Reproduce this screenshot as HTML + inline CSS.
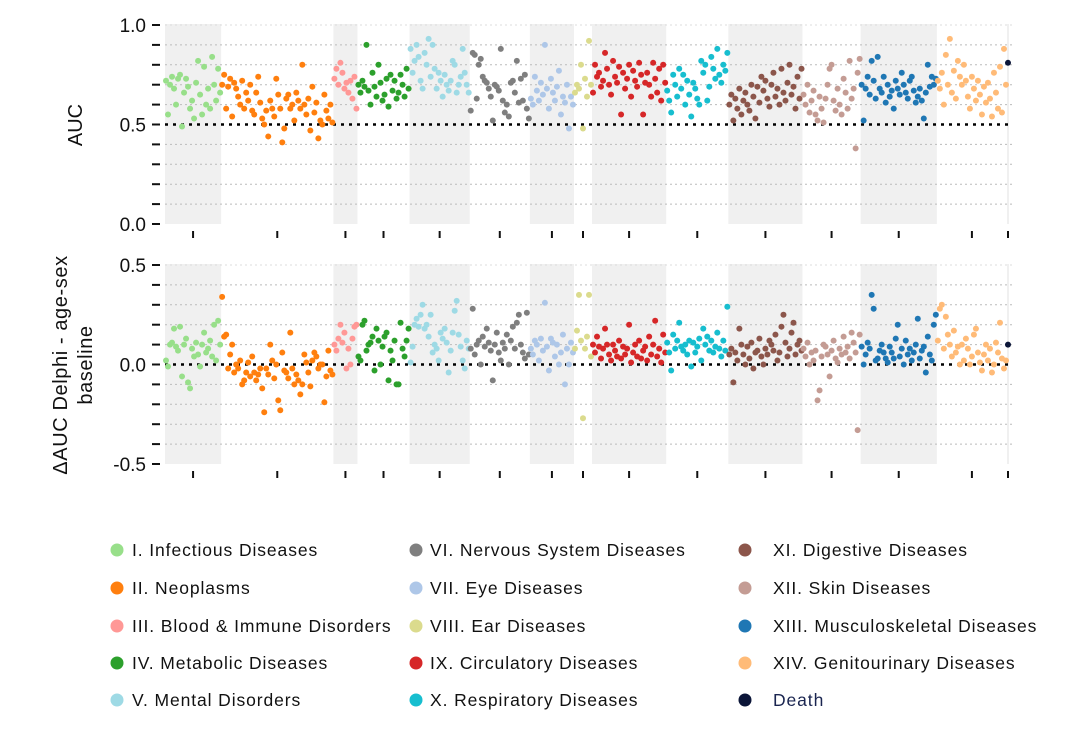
<!DOCTYPE html>
<html><head><meta charset="utf-8"><style>
html,body{margin:0;padding:0;background:#fff;width:1084px;height:738px;overflow:hidden}
svg{display:block;font-family:"Liberation Sans",Arial,sans-serif}
</style></head><body>
<svg id="chart" width="1084" height="738" xmlns="http://www.w3.org/2000/svg"></svg>
<script>
const groupNames=["I. Infectious Diseases","II. Neoplasms","III. Blood & Immune Disorders","IV. Metabolic Diseases","V. Mental Disorders","VI. Nervous System Diseases","VII. Eye Diseases","VIII. Ear Diseases","IX. Circulatory Diseases","X. Respiratory Diseases","XI. Digestive Diseases","XII. Skin Diseases","XIII. Musculoskeletal Diseases","XIV. Genitourinary Diseases","Death"];
const groupColors=["#98df8a","#ff7f0e","#ff9896","#2ca02c","#9edae5","#7f7f7f","#aec7e8","#dbdb8d","#d62728","#17becf","#8c564b","#c49c94","#1f77b4","#ffbb78","#0b1538"];
const aucValues=[
[.72,.55,.70,.74,.68,.60,.73,.75,.49,.66,.73,.69,.58,.62,.53,.71,.82,.65,.55,.79,.60,.68,.58,.84,.70,.62,.78,.66],
[.70,.75,.58,.69,.73,.54,.71,.68,.64,.60,.72,.58,.66,.62,.70,.57,.55,.66,.74,.61,.53,.50,.57,.44,.62,.58,.54,.73,.65,.58,.41,.48,.63,.65,.58,.60,.52,.66,.62,.58,.80,.60,.55,.63,.47,.69,.56,.61,.43,.52,.50,.65,.57,.53,.60,.51],
[.73,.78,.70,.81,.76,.68,.71,.66,.72,.63,.74,.58],
[.70,.66,.72,.69,.90,.67,.60,.76,.69,.64,.80,.71,.62,.65,.73,.59,.75,.67,.72,.63,.66,.75,.70,.64,.78,.68],
[.88,.76,.82,.90,.84,.72,.68,.86,.80,.93,.74,.90,.78,.68,.76,.72,.64,.75,.70,.67,.72,.82,.80,.66,.70,.74,.88,.76,.70,.66],
[.57,.86,.85,.63,.80,.83,.74,.72,.71,.68,.64,.52,.70,.69,.67,.88,.62,.56,.60,.54,.71,.72,.66,.82,.61,.73,.62,.75,.58,.53],
[.63,.60,.74,.67,.62,.71,.65,.90,.68,.58,.73,.66,.62,.69,.77,.55,.64,.61,.70,.48,.64,.60],
[.66,.70,.68,.80,.48,.73,.64,.92,.70],
[.66,.80,.74,.76,.69,.72,.86,.78,.70,.65,.82,.74,.71,.79,.55,.76,.68,.73,.80,.64,.77,.72,.69,.81,.75,.55,.71,.76,.70,.64,.81,.73,.66,.78,.62,.80,.71],
[.67,.62,.56,.75,.70,.64,.78,.68,.75,.60,.72,.65,.54,.71,.68,.63,.60,.82,.76,.80,.62,.69,.84,.78,.73,.88,.75,.71,.80,.77,.86],
[.60,.65,.52,.63,.58,.68,.55,.62,.66,.60,.57,.70,.64,.53,.69,.61,.74,.67,.72,.63,.59,.70,.76,.64,.68,.60,.78,.66,.62,.71,.80,.65,.69,.58,.74,.63,.78],
[.65,.60,.70,.56,.62,.67,.55,.52,.64,.58,.51,.63,.70,.78,.80,.62,.57,.68,.60,.55,.73,.66,.58,.82,.63,.68,.38,.76,.83],
[.70,.52,.68,.74,.65,.82,.72,.63,.84,.68,.66,.74,.61,.70,.64,.67,.58,.72,.68,.65,.76,.70,.66,.63,.72,.74,.67,.61,.64,.68,.62,.53,.66,.80,.69,.74,.70,.73],
[.72,.68,.76,.60,.85,.70,.93,.66,.77,.63,.82,.74,.70,.80,.72,.64,.58,.74,.68,.62,.72,.65,.55,.69,.61,.71,.63,.54,.76,.66,.58,.79,.56,.88,.70],
[.81]];
const deltaValues=[
[.02,-.01,.10,.11,.18,.09,.07,.19,-.06,.10,.13,-.09,-.12,.08,.04,.11,.05,-.01,.10,.16,.06,.08,.12,.04,.20,.02,.22,.10],
[.34,.14,.15,-.02,.05,.10,-.04,.00,-.02,.02,-.10,-.08,-.04,.01,-.06,.04,-.04,-.08,-.05,-.02,-.12,-.24,-.02,-.05,.10,.02,-.07,.00,-.18,-.23,.06,-.03,-.04,-.07,.16,-.02,-.10,-.05,-.08,-.15,-.10,.05,.01,-.04,-.11,.02,.06,.04,-.02,.00,.00,-.19,-.06,.07,-.03,-.05],
[.10,.07,.13,.20,.11,.16,-.02,.08,.00,.13,.19,.20],
[.04,.02,.20,.22,.07,.10,.11,.14,-.03,.18,.12,.00,.09,.14,.16,-.08,.07,.02,.12,-.10,-.10,.21,.08,.04,.12,.18],
[.01,.09,.20,.23,.19,.25,.30,.18,.20,.14,.25,.06,.10,.08,.02,.16,.13,.18,.11,-.04,.07,.16,.27,.32,.15,.09,.02,-.02,.12,.08],
[.08,.28,.05,.10,.12,.00,.14,.09,.18,.11,.07,-.08,.10,.16,.06,.02,.11,.08,.15,.00,.12,.19,.08,.21,.25,.10,.06,.03,.26,.05],
[.08,.05,.12,.10,.02,.13,.07,.31,.09,-.03,.13,.11,.04,.10,.00,.06,.15,-.10,.08,.00,.11,.06],
[.08,.17,.35,.12,-.27,.08,.14,.35,.04],
[.10,.06,.14,.09,.03,.08,.18,.10,.05,.02,.10,.07,.04,.12,.03,.09,.05,.08,.20,.01,.06,.10,.04,.12,.03,.07,.09,.02,.14,.05,.10,.22,.04,.08,.01,.15,.06],
[.11,.06,-.03,.15,.08,.12,.21,.09,.07,.10,.05,.12,-.01,.11,.06,.09,.13,.02,.18,.10,.14,.07,.12,.06,.09,.16,.08,.04,.12,.07,.29],
[.05,.08,-.09,.06,.02,.18,.10,.05,.00,.09,.03,.11,-.02,.06,.07,.13,.04,.00,.08,.05,.12,.10,.07,.15,.02,.06,.19,.25,.11,.04,.08,.16,.21,.05,.10,.12,.07],
[.08,.04,.11,.00,.06,.02,.07,-.18,-.13,.04,.10,.09,.05,-.06,.07,.12,.03,.01,.08,.05,.14,.06,.09,.03,.16,.11,.06,-.33,.15],
[.09,.00,.05,.11,.08,.35,.28,.02,.03,.07,.10,.06,.03,.01,.09,.06,.03,.13,.20,.04,.08,.00,.12,.05,.08,.02,.06,.10,.23,.03,.07,.09,-.04,.14,.05,.02,.20,.25],
[.12,.28,.30,.08,.24,.15,.10,.04,.17,.06,.09,.00,.10,.02,.13,.08,.00,.04,.15,.18,.06,.01,-.03,.05,.10,.02,.08,-.04,.00,.11,.06,.21,.03,-.02,.02],
[.10]];
const topTickLabels=["0.0","0.5","1.0"];
const bottomTickLabels=["-0.5","0.0","0.5"];

const NS="http://www.w3.org/2000/svg";
const svg=document.getElementById('chart');
function el(tag,attrs,parent){const e=document.createElementNS(NS,tag);for(const k in attrs)e.setAttribute(k,attrs[k]);(parent||svg).appendChild(e);return e;}
const total=aucValues.reduce((s,a)=>s+a.length,0);
const X0=165,X1=1009;
const xScale=i=>X0+(i)/total*(X1-X0);
const panels=[
 {vals:aucValues,min:0,max:1,top:25,bot:224,ref:0.5,labels:topTickLabels,name:'auc'},
 {vals:deltaValues,min:-0.5,max:0.5,top:265,bot:464,ref:0,labels:bottomTickLabels,name:'delta'}];
panels.forEach(p=>{
 const y=v=>p.bot-(v-p.min)/(p.max-p.min)*(p.bot-p.top);
 const g=el('g',{});
 
 
 let start=0;
 p.vals.forEach((arr,gi)=>{
  if(gi%2===0){const r=el('rect',{x:xScale(start),y:p.top-1,width:xScale(start+arr.length)-xScale(start),height:p.bot-p.top+1,fill:'#f0f0f0'},g);
   }
  start+=arr.length;
 });
 for(let k=0;k<=10;k++){
  const v=p.min+k*(p.max-p.min)/10, yy=y(v);
  if(k>0&&k<10&&Math.abs(v-p.ref)>1e-9){const l=el('line',{x1:X0,x2:1012,y1:yy,y2:yy,stroke:'#bbb','stroke-width':1,'stroke-dasharray':'2,3'},g);}
  if(k===10){el('line',{x1:X0,x2:1012,y1:yy,y2:yy,stroke:'#ddd','stroke-width':1,'stroke-dasharray':'2,3'},g);}
  const t=el('line',{x1:152,x2:160,y1:yy,y2:yy,stroke:'#111','stroke-width':2},g);
 }
 p.labels.forEach((lab,i)=>{const v=p.min+i*(p.max-p.min)/2;const t=el('text',{x:146,y:y(v)+7,'text-anchor':'end','font-size':19,fill:'#111'},g);t.textContent=lab;});
 const rl=el('line',{x1:X0,x2:1012,y1:y(p.ref),y2:y(p.ref),stroke:'#000','stroke-width':2.5,'stroke-dasharray':'3,5'},g);
 
 start=0;
 p.vals.forEach((arr)=>{const cx=(xScale(start)+xScale(start+arr.length))/2;const t=el('line',{x1:cx,x2:cx,y1:p.bot+7,y2:p.bot+14,stroke:'#111','stroke-width':2},g);start+=arr.length;});
 start=0;
 p.vals.forEach((arr,gi)=>{arr.forEach((v,i)=>{const c=el('circle',{cx:xScale(start+i+0.5),cy:y(v),r:3,fill:groupColors[gi]},g);
  
  });start+=arr.length;});
});
let t=el('text',{transform:'translate(82,125) rotate(-90)','text-anchor':'middle','font-size':20,fill:'#111'});t.textContent='AUC';

t=el('text',{transform:'translate(67,365) rotate(-90)','text-anchor':'middle','font-size':20,fill:'#111','letter-spacing':0.6});t.textContent='\u0394AUC Delphi - age-sex';

t=el('text',{transform:'translate(92,365) rotate(-90)','text-anchor':'middle','font-size':20,fill:'#111','letter-spacing':0.6});t.textContent='baseline';

const colX=[117,416,745],textX=[132,430,773],rowY=[550,588,626,663,700];
groupNames.forEach((n,i)=>{const c=Math.floor(i/5),r=i%5;
 const g=el('g',{});
 el('circle',{cx:colX[c],cy:rowY[r],r:6.5,fill:groupColors[i]},g);
 const tx=el('text',{x:textX[c],y:rowY[r]+6,'font-size':17.5,'letter-spacing':0.9,fill:n==='Death'?'#1a2550':'#111'},g);tx.textContent=n;});
</script>
</body></html>
